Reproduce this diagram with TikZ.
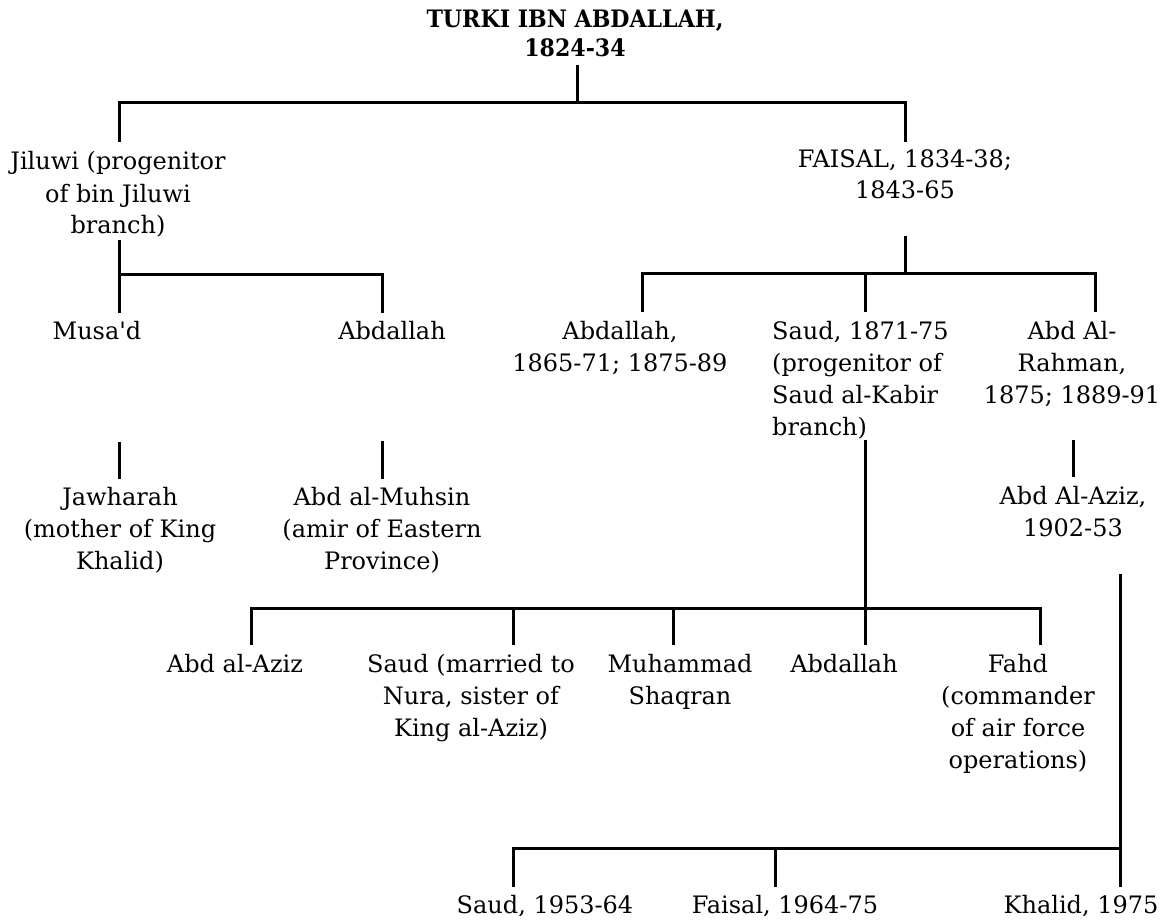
\documentclass[tikz,border=0pt]{standalone}
\usepackage{fontspec}
\setmainfont{DejaVu Serif}[Ligatures=TeXOff]
\newfontfamily\headfont[FakeStretch=0.92]{DejaVu Serif}
\tikzset{
  person/.style={anchor=base, align=center, inner sep=0pt,
    font=\fontsize{24}{32}\selectfont},
  ruler/.style={anchor=base, align=center, inner sep=0pt,
    font=\headfont\bfseries\fontsize{24}{29}\selectfont},
  link/.style={line width=3pt}
}
\begin{document}
\begin{tikzpicture}[x=1pt,y=-1pt]
\fill[white] (0,0) rectangle (1165,920);
\useasboundingbox (0,0) rectangle (1165,920);

% Each node sits on the baseline of its last line.

% ---- generation 0
\node[ruler] (turki) at (575,57) {TURKI IBN ABDALLAH,\\1824-34};

% ---- generation 1
\node[person] (jiluwi) at (118,234) {Jiluwi (progenitor\\of bin Jiluwi\\branch)};
\node[person, font=\fontsize{24}{31}\selectfont] (faisal) at (905,199) {FAISAL, 1834-38;\\1843-65};

% ---- generation 2
\node[person] (musad) at (97,339) {Musa'd};
\node[person] (abdj) at (392,339) {Abdallah};
\node[person] (abdf) at (620,371) {Abdallah,\\1865-71; 1875-89};
\node[person, anchor=base west, align=left] (saudf) at (772,435) {Saud, 1871-75\\(progenitor of\\Saud al-Kabir\\branch)};
\node[person] (rahman) at (1072,403) {Abd Al-\\Rahman,\\1875; 1889-91};

% ---- generation 3
\node[person] (jawharah) at (120,569) {Jawharah\\(mother of King\\Khalid)};
\node[person] (muhsin) at (382,569) {Abd al-Muhsin\\(amir of Eastern\\Province)};
\node[person] (aziz) at (1073,536) {Abd Al-Aziz,\\1902-53};

\node[person] (sk1) at (235,672) {Abd al-Aziz};
\node[person] (sk2) at (471,736) {Saud (married to\\Nura, sister of\\King al-Aziz)};
\node[person] (sk3) at (680,704) {Muhammad\\Shaqran};
\node[person] (sk4) at (844,672) {Abdallah};
\node[person] (sk5) at (1018,768) {Fahd\\(commander\\of air force\\operations)};

% ---- generation 4
\node[person] (king1) at (545,913) {Saud, 1953-64};
\node[person] (king2) at (785,913) {Faisal, 1964-75};
\node[person] (king3) at (1081,913) {Khalid, 1975};

% ---- stem ends (below parents, above children)
\coordinate (turki-o) at (577,65);
\coordinate (jiluwi-i) at (119,142);
\coordinate (faisal-i) at (905,142);
\coordinate (jiluwi-o) at (119,240);
\coordinate (faisal-o) at (905,236);
\coordinate (musad-i) at (119,313);
\coordinate (abdj-i) at (382,313);
\coordinate (abdf-i) at (642,312);
\coordinate (saudf-i) at (865,312);
\coordinate (rahman-i) at (1095,312);
\coordinate (musad-o) at (119,442);
\coordinate (jawharah-i) at (119,479);
\coordinate (abdj-o) at (382,441);
\coordinate (muhsin-i) at (382,479);
\coordinate (rahman-o) at (1073,440);
\coordinate (aziz-i) at (1073,477);
\coordinate (saudf-o) at (865,440);
\coordinate (sk1-i) at (251,645);
\coordinate (sk2-i) at (513,645);
\coordinate (sk3-i) at (673,645);
\coordinate (sk4-i) at (865,645);
\coordinate (sk5-i) at (1040,645);
\coordinate (aziz-o) at (1120,574);
\coordinate (king1-i) at (513,887);
\coordinate (king2-i) at (775,887);
\coordinate (king3-i) at (1120,887);

% ---- sibling bars
\coordinate (bar0) at (577,103);
\coordinate (bar1) at (119,275);
\coordinate (bar2) at (905,274);
\coordinate (bar3) at (865,608);
\coordinate (bar4) at (1120,848);

% ---- connectors
\draw[link] (turki-o) -- (bar0);
\draw[link] (jiluwi-i) -- (jiluwi-i |- bar0) -- (faisal-i |- bar0) -- (faisal-i);

\draw[link] (jiluwi-o) -- (bar1);
\draw[link] (musad-i) -- (musad-i |- bar1) -- (abdj-i |- bar1) -- (abdj-i);

\draw[link] (faisal-o) -- (bar2);
\draw[link] (abdf-i) -- (abdf-i |- bar2) -- (rahman-i |- bar2) -- (rahman-i);
\draw[link] (saudf-i |- bar2) -- (saudf-i);

\draw[link] (musad-o) -- (jawharah-i);
\draw[link] (abdj-o) -- (muhsin-i);
\draw[link] (rahman-o) -- (aziz-i);

\draw[link] (saudf-o) -- (bar3);
\draw[link] (sk1-i) -- (sk1-i |- bar3) -- (sk5-i |- bar3) -- (sk5-i);
\draw[link] (sk2-i |- bar3) -- (sk2-i);
\draw[link] (sk3-i |- bar3) -- (sk3-i);
\draw[link] (sk4-i |- bar3) -- (sk4-i);

\draw[link] (aziz-o) -- (king3-i);
\draw[link] (king1-i) -- (king1-i |- bar4) -- (bar4);
\draw[link] (king2-i |- bar4) -- (king2-i);
\end{tikzpicture}
\end{document}
